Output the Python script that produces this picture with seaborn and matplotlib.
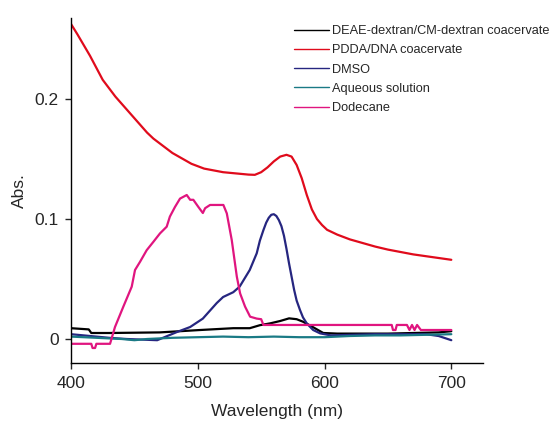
import matplotlib
matplotlib.use("Agg")
import matplotlib.pyplot as plt
import seaborn as sns
import pandas as pd

# DEAE-dextran/CM-dextran coacervate
deae_wl = [400, 414, 416, 430, 470, 502, 528, 541, 549, 557, 565, 572, 578, 583, 589, 594, 599, 610, 650, 690, 700]
deae_abs = [0.009, 0.008, 0.005, 0.005, 0.0055, 0.0075, 0.009, 0.009, 0.0115, 0.013, 0.015, 0.0172, 0.0165, 0.0144, 0.011, 0.008, 0.005, 0.0045, 0.0045, 0.0055, 0.0065]

# PDDA/DNA coacervate
pdda_wl = [400, 405, 410, 415, 420, 425, 430, 435, 440, 445, 450, 455, 460, 465, 470, 475, 480, 485, 490, 495,
           500, 505, 510, 515, 520, 525, 530, 535, 540, 545, 550, 555, 560, 565, 570, 574, 578, 582, 586, 590,
           594, 598, 602, 610, 620, 630, 640, 650, 660, 670, 680, 690, 700]
pdda_abs = [0.2625, 0.254, 0.245, 0.236, 0.226, 0.216, 0.209, 0.202, 0.196, 0.19, 0.184, 0.178, 0.172, 0.167, 0.163, 0.159, 0.155, 0.152, 0.149, 0.146,
            0.144, 0.142, 0.141, 0.140, 0.139, 0.1385, 0.138, 0.1375, 0.137, 0.1368, 0.139, 0.143, 0.148, 0.152, 0.1535, 0.152, 0.145, 0.134, 0.12, 0.108,
            0.1, 0.095, 0.091, 0.087, 0.083, 0.08, 0.077, 0.0745, 0.0725, 0.0705, 0.069, 0.0675, 0.066]

# DMSO
dmso_wl = [400, 410, 430, 444, 468, 484, 494, 504, 515, 520, 528, 533, 541, 546.5, 549, 551.8, 554, 556, 558, 560, 562, 564, 566, 568,
           570, 572, 574, 576, 578, 580.7, 583, 586, 591, 596.5, 605, 640, 680, 690, 700]
dmso_abs = [0.004, 0.003, 0.001, 0.0, -0.001, 0.006, 0.010, 0.017, 0.030, 0.035, 0.039, 0.0436, 0.0575, 0.0714, 0.082, 0.0908, 0.097, 0.101, 0.1035, 0.104, 0.1025, 0.099, 0.094, 0.086,
            0.075, 0.063, 0.052, 0.041, 0.032, 0.024, 0.018, 0.013, 0.0075, 0.0047, 0.003, 0.004, 0.004, 0.0025, -0.001]

# Aqueous solution
aq_wl = [400, 420, 440, 450, 460, 480, 500, 520, 540, 560, 580, 600, 620, 640, 660, 680, 700]
aq_abs = [0.002, 0.001, 0.0, -0.001, 0.0, 0.001, 0.0015, 0.002, 0.0015, 0.002, 0.0015, 0.0015, 0.0025, 0.003, 0.003, 0.0035, 0.004]

# Dodecane
dod_wl = [400, 416, 417, 419, 420, 430.8, 434.7, 441.3, 447.9, 450.5, 454.5, 459.7, 465, 470.2, 475.5, 478, 482, 486, 491.3, 494, 496.5, 500.5, 504, 505.8, 509.7, 520.2, 522.9, 526.8, 530.8, 533.4, 537.3, 541.3, 546.5, 550, 551.8, 653, 654, 656, 657, 665, 667, 669, 671, 673, 676, 700]
dod_abs = [-0.004, -0.004, -0.0075, -0.0075, -0.004, -0.004, 0.010, 0.027, 0.0436, 0.0575, 0.0644, 0.074, 0.081, 0.088, 0.0936, 0.102, 0.110, 0.117, 0.120, 0.116, 0.116, 0.110, 0.105, 0.109, 0.1117, 0.1117, 0.1047, 0.0825, 0.052, 0.038, 0.027, 0.0186, 0.017, 0.0165, 0.0117, 0.0117, 0.0075, 0.0075, 0.0117, 0.0117, 0.0075, 0.0117, 0.0075, 0.0117, 0.0075, 0.0075]

series = [
    ("DEAE-dextran/CM-dextran coacervate", deae_wl, deae_abs, "#000000"),
    ("PDDA/DNA coacervate", pdda_wl, pdda_abs, "#e00b1c"),
    ("DMSO", dmso_wl, dmso_abs, "#262680"),
    ("Aqueous solution", aq_wl, aq_abs, "#1a7a85"),
    ("Dodecane", dod_wl, dod_abs, "#e0157f"),
]

x_ticks = [400, 500, 600, 700]
y_ticks = [0, 0.1, 0.2]
y_ticklabels = ["0", "0.1", "0.2"]

sns.set_style("ticks")
plt.rcParams['font.family'] = ['Liberation Sans', 'DejaVu Sans']

fig = plt.figure(figsize=(5.57, 4.21), dpi=100)
ax = fig.add_axes([71/557, 1-363/421, (483-71)/557, (363-18)/421])

for name, wl, ab, col in series:
    df = pd.DataFrame({"wl": wl, "abs": ab})
    sns.lineplot(data=df, x="wl", y="abs", ax=ax, color=col, lw=1.6,
                 label=name, sort=False, estimator=None)

ax.set_xlim(400, 725)
ax.set_ylim(-0.02, 0.2675)
ax.set_xticks(x_ticks)
ax.set_yticks(y_ticks)
ax.set_yticklabels(y_ticklabels)
ax.tick_params(labelsize=12.5, length=4, width=1, direction="out", pad=5)
ax.set_xlabel("Wavelength (nm)", fontsize=12.5, labelpad=10)
ax.set_ylabel("Abs.", fontsize=12.5, labelpad=5)
sns.despine(ax=ax)
for s in ["left", "bottom"]:
    ax.spines[s].set_linewidth(1.0)
    ax.spines[s].set_color("black")

leg = ax.legend(loc="upper left", frameon=False, fontsize=9.2, handlelength=2.7, handletextpad=0.3,
                labelspacing=0.57, borderaxespad=0.0)
leg.set_bbox_to_anchor((289/557, 1-20/421), transform=fig.transFigure)
for line in leg.get_lines():
    line.set_linewidth(1.0)

fig.savefig("out.png", dpi=100)
